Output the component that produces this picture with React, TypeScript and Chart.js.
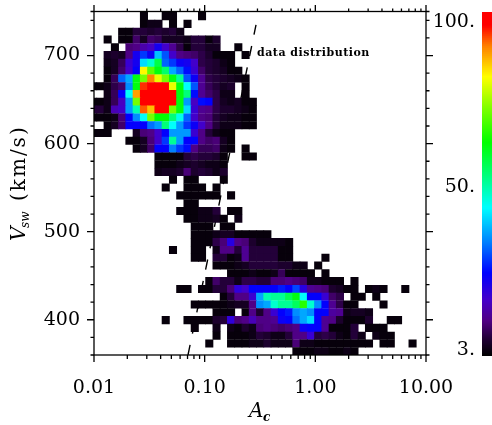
import React, { useEffect, useRef } from "react";
import { Chart, registerables } from "chart.js";

Chart.register(...registerables);

const FONT = '"DejaVu Serif"';

// 2-D histogram: for each speed row (top to bottom) the first occupied A_c bin and the counts that follow
const rowsFast: [number, number[]][] = [
  [6, [4, 0, 0, 4, 4, 0, 0, 0, 4]],
  [6, [4, 5, 5, 0, 4, 0, 4]],
  [3, [4, 4, 8, 8, 7, 8, 7, 8, 5]],
  [1, [4, 0, 4, 4, 11, 6, 11, 10, 6, 6, 6, 5, 8, 8, 4, 7]],
  [2, [4, 0, 12, 13, 16, 18, 24, 19, 14, 9, 4, 8, 8, 6, 6, 0, 0, 4]],
  [1, [6, 7, 6, 13, 24, 30, 25, 40, 32, 19, 13, 12, 11, 9, 7, 4, 4, 4, 0, 4]],
  [1, [5, 6, 10, 20, 24, 42, 48, 58, 33, 30, 25, 24, 19, 9, 8, 7, 5, 4]],
  [1, [4, 6, 11, 19, 26, 82, 70, 62, 55, 38, 33, 27, 20, 11, 8, 7, 6, 4, 4]],
  [1, [4, 10, 33, 38, 62, 72, 90, 80, 72, 62, 52, 32, 25, 14, 9, 8, 7, 6, 5, 4]],
  [0, [4, 5, 9, 11, 36, 62, 94, 100, 100, 100, 80, 62, 45, 32, 14, 10, 8, 6, 7, 0, 4]],
  [1, [5, 10, 26, 45, 88, 100, 100, 100, 100, 100, 62, 54, 27, 14, 11, 9, 5, 5, 0, 4]],
  [0, [4, 5, 10, 18, 37, 72, 100, 100, 100, 100, 100, 62, 37, 18, 27, 26, 9, 6, 5, 6, 4, 4]],
  [0, [8, 5, 17, 19, 37, 50, 92, 86, 100, 100, 72, 62, 42, 20, 14, 13, 9, 7, 7, 6, 5, 4]],
  [0, [4, 4, 5, 12, 26, 36, 45, 72, 63, 63, 54, 46, 33, 19, 13, 12, 8, 6, 5, 5, 4, 4]],
  [1, [4, 6, 11, 26, 26, 26, 34, 37, 54, 45, 37, 30, 25, 19, 13, 8, 5, 5, 5, 4, 4]],
  [0, [4, 4, 0, 0, 0, 6, 12, 13, 19, 26, 37, 37, 37, 20, 13, 8, 5, 4, 4]],
  [4, [4, 4, 6, 12, 19, 30, 52, 37, 26, 26, 13, 11, 12, 6, 4]],
  [5, [4, 6, 11, 26, 26, 35, 30, 27, 13, 10, 10, 11, 5, 4, 0, 4]],
  [8, [4, 4, 4, 4, 8, 9, 8, 8, 7, 4, 0, 0, 4, 4]],
  [8, [4, 4, 4, 5, 6, 7, 6, 5, 5, 4]],
  [8, [5, 6, 6, 7, 12, 7, 8, 7, 5, 7]],
  [10, [4, 0, 4, 4, 0, 0, 0, 4]],
];
const rowsSlow: [number, number[]][] = [
  [9, [4, 0, 0, 4, 4, 4, 0, 4]],
  [11, [4, 4, 4, 4, 4, 4, 0, 4]],
  [12, [4, 4]],
  [11, [4, 4, 4, 5, 5, 8, 0, 4, 4]],
  [12, [4, 4, 5, 5, 6, 4, 0, 5]],
  [13, [4, 4, 4, 0, 4, 4]],
  [13, [4, 4, 4, 5, 6, 6, 4, 4, 4, 4, 4]],
  [13, [4, 4, 4, 9, 12, 22, 13, 12, 7, 5, 5, 5, 5, 4]],
  [10, [4, 0, 0, 4, 4, 0, 5, 13, 13, 8, 14, 8, 8, 8, 8, 4, 4]],
  [13, [4, 4, 0, 8, 8, 4, 5, 14, 8, 8, 8, 8, 4, 4, 0, 0, 0, 0, 4]],
  [16, [4, 4, 4, 5, 6, 8, 8, 8, 8, 7, 7, 5, 5, 0, 4]],
  [18, [4, 4, 4, 5, 4, 4, 5, 10, 4, 4, 4, 4, 0, 4]],
  [15, [4, 11, 8, 8, 5, 9, 9, 8, 8, 12, 12, 13, 12, 11, 5, 5, 4, 4, 4, 0, 4]],
  [11, [4, 4, 0, 4, 4, 8, 8, 12, 21, 19, 26, 26, 26, 26, 28, 26, 31, 22, 14, 13, 12, 7, 6, 4, 4, 0, 4, 5, 4, 0, 0, 4]],
  [17, [4, 8, 13, 13, 20, 38, 50, 52, 52, 57, 62, 45, 26, 26, 20, 11, 9, 0, 4, 4, 0, 4]],
  [13, [4, 4, 4, 4, 4, 5, 6, 6, 13, 36, 38, 48, 52, 52, 56, 66, 48, 36, 26, 14, 9, 4, 4, 0, 0, 0, 4]],
  [16, [4, 4, 4, 0, 4, 13, 7, 13, 20, 26, 28, 36, 38, 36, 26, 26, 15, 14, 5, 6, 6, 5]],
  [9, [4, 0, 0, 4, 4, 4, 4, 7, 8, 21, 12, 13, 17, 13, 13, 14, 25, 26, 34, 38, 42, 26, 14, 13, 7, 4, 4, 4, 7, 0, 0, 4, 4]],
  [13, [4, 0, 0, 5, 0, 5, 4, 7, 5, 12, 13, 12, 11, 12, 13, 25, 26, 26, 14, 4, 4, 4, 8, 0, 4, 4, 4]],
  [16, [4, 0, 4, 4, 4, 5, 8, 7, 5, 5, 8, 13, 13, 20, 8, 9, 8, 5, 4, 8, 5, 0, 5, 4, 4]],
  [15, [4, 0, 0, 4, 4, 4, 5, 5, 7, 5, 5, 5, 12, 5, 5, 4, 4, 4, 4, 4, 4, 4, 4, 0, 4, 4, 0, 0, 4]],
  [27, [4, 4, 4, 5, 5, 4, 4, 5, 4]],
];

// bin geometry in data units
const logAFirstEdge = -1.975;
const logABinWidth = 0.0656;
const speedTopEdge = 749.2;
const speedBinHeight = 8.85;

// axes
const xMajorTicks = [0.01, 0.1, 1, 10];
const xMajorLabels = ["0.01", "0.10", "1.00", "10.00"];
const xTickValues = [
  0.01, 0.02, 0.03, 0.04, 0.05, 0.06, 0.07, 0.08, 0.09,
  0.1, 0.2, 0.3, 0.4, 0.5, 0.6, 0.7, 0.8, 0.9,
  1, 2, 3, 4, 5, 6, 7, 8, 9, 10,
];
const yMajorTicks = [400, 500, 600, 700];
const yTickValues = [
  360, 380, 400, 420, 440, 460, 480, 500, 520, 540, 560, 580, 600,
  620, 640, 660, 680, 700, 720, 740, 750,
];

// dashed guide line (A_c, V_sw)
const guideA = [0.0707, 0.291];
const guideV = [360, 734.7];

// colour bar
const barMin = 3;
const barMax = 100;
const barLevels = 172;
const barLabels: Record<number, string> = { 97.2: "100.", 50.6: "50.", 4.7: "3." };

const colourStops: [number, [number, number, number]][] = [
  [0, [0, 0, 0]],
  [0.05, [34, 0, 55]],
  [0.1, [80, 0, 130]],
  [0.16, [70, 0, 200]],
  [0.24, [0, 0, 255]],
  [0.33, [0, 128, 255]],
  [0.43, [0, 255, 255]],
  [0.52, [0, 255, 128]],
  [0.62, [0, 255, 0]],
  [0.72, [128, 255, 0]],
  [0.81, [255, 255, 0]],
  [0.9, [255, 128, 0]],
  [0.96, [255, 0, 0]],
  [1, [255, 0, 0]],
];

function colourFor(v: number): string {
  const t = Math.max(0, Math.min(1, (v - barMin) / (barMax - barMin)));
  for (let i = 1; i < colourStops.length; i++) {
    const [t1, c1] = colourStops[i];
    const [t0, c0] = colourStops[i - 1];
    if (t <= t1) {
      const f = (t - t0) / (t1 - t0);
      const m = (a: number, b: number) => Math.round(a + (b - a) * f);
      return `rgb(${m(c0[0], c1[0])},${m(c0[1], c1[1])},${m(c0[2], c1[2])})`;
    }
  }
  return "rgb(255,0,0)";
}

function buildCells() {
  const pts: { x: number; y: number }[] = [];
  const colours: string[] = [];
  const push = (k: number, j: number, v: number) => {
    pts.push({
      x: Math.pow(10, logAFirstEdge + (k + 0.5) * logABinWidth),
      y: speedTopEdge - (j + 0.5) * speedBinHeight,
    });
    colours.push(colourFor(v));
  };
  [...rowsFast, ...rowsSlow].forEach(([start, values], j) => {
    values.forEach((v, i) => {
      if (!v) return;
      const k = start + i;
      if (k === 0) push(-1, j, v);
      push(k, j, v);
    });
  });
  return { pts, colours };
}

const framePlugin = {
  id: "frame",
  afterDatasetsDraw(chart: any) {
    const { ctx, chartArea: a, scales } = chart;
    ctx.save();
    ctx.strokeStyle = "#000";
    ctx.lineWidth = 1.3;
    ctx.strokeRect(a.left, a.top, a.right - a.left, a.bottom - a.top);
    ctx.beginPath();
    xTickValues.forEach((v) => {
      const p = scales.x.getPixelForValue(v);
      const bottom = xMajorTicks.includes(v) ? 7 : 4;
      const top = xMajorTicks.includes(v) ? 6.5 : 3;
      ctx.moveTo(p, a.bottom);
      ctx.lineTo(p, a.bottom + bottom);
      ctx.moveTo(p, a.top);
      ctx.lineTo(p, a.top - top);
    });
    yTickValues.forEach((v) => {
      const p = scales.y.getPixelForValue(v);
      const len = yMajorTicks.includes(v) ? 7 : 3.5;
      ctx.moveTo(a.left, p);
      ctx.lineTo(a.left - len, p);
      ctx.moveTo(a.right, p);
      ctx.lineTo(a.right + len, p);
    });
    ctx.stroke();

    ctx.fillStyle = "#000";
    ctx.textBaseline = "alphabetic";
    ctx.textAlign = "left";

    // annotation
    (ctx as any).letterSpacing = "0.5px";
    ctx.font = `bold 11px ${FONT}`;
    ctx.fillText("data distribution", 257, 56);

    // x title
    (ctx as any).letterSpacing = "0px";
    ctx.font = `italic 20px ${FONT}`;
    ctx.fillText("A", 249, 417);
    ctx.font = `italic bold 12px ${FONT}`;
    ctx.fillText("c", 263, 421);

    // y title
    ctx.translate(25, 241);
    ctx.rotate(-Math.PI / 2);
    ctx.font = `italic 20px ${FONT}`;
    ctx.fillText("V", 0, 0);
    ctx.font = `italic 12px ${FONT}`;
    ctx.fillText("sw", 13, 4);
    (ctx as any).letterSpacing = "2px";
    ctx.font = `20px ${FONT}`;
    ctx.fillText("(km/s)", 40, 0);
    ctx.restore();
  },
};

const noPadding = (s: any) => {
  s.paddingTop = 0;
  s.paddingBottom = 0;
  s.paddingLeft = 0;
  s.paddingRight = 0;
};

export default function App() {
  const mainRef = useRef<HTMLCanvasElement>(null);
  const barRef = useRef<HTMLCanvasElement>(null);

  useEffect(() => {
    const { pts, colours } = buildCells();
    const tickFont = { family: FONT, size: 19 };

    const main = new Chart(mainRef.current!, {
      type: "scatter",
      data: {
        datasets: [
          {
            label: "cells",
            data: pts,
            pointStyle: "rect",
            pointRadius: 5.7,
            pointHoverRadius: 5.7,
            pointBorderWidth: 0,
            pointBackgroundColor: colours,
            showLine: false,
            clip: 0,
          } as any,
          {
            label: "data distribution",
            data: guideA.map((x, i) => ({ x, y: guideV[i] })),
            showLine: true,
            borderColor: "#000",
            borderWidth: 1.4,
            borderDash: [10.3, 11.5],
            pointRadius: 0,
            clip: 0,
          } as any,
        ],
      },
      options: {
        animation: false,
        responsive: false,
        events: [],
        layout: { padding: { top: 11.5, right: 66, left: 0, bottom: 0 } },
        plugins: { legend: { display: false }, tooltip: { enabled: false } },
        scales: {
          x: {
            type: "logarithmic",
            min: 0.01,
            max: 10,
            grid: { display: false, drawTicks: false },
            border: { display: false },
            afterBuildTicks(s: any) {
              s.ticks = xTickValues.map((value) => ({ value }));
            },
            afterFit(s: any) {
              s.height = 70;
              noPadding(s);
            },
            ticks: {
              autoSkip: false,
              maxRotation: 0,
              minRotation: 0,
              padding: 22,
              color: "#000",
              font: tickFont,
              callback: (v: any) => {
                const i = xMajorTicks.indexOf(Number(v));
                return i >= 0 ? xMajorLabels[i] : "";
              },
            },
          },
          y: {
            type: "linear",
            min: 360,
            max: 750,
            grid: { display: false, drawTicks: false },
            border: { display: false },
            afterBuildTicks(s: any) {
              s.ticks = yTickValues.map((value) => ({ value }));
            },
            afterFit(s: any) {
              s.width = 94;
              noPadding(s);
            },
            ticks: {
              autoSkip: false,
              padding: 14,
              color: "#000",
              font: tickFont,
              callback: (v: any) => (yMajorTicks.includes(Number(v)) ? String(v) : ""),
            },
          },
        },
      } as any,
      plugins: [framePlugin as any],
    });

    const levels = Array.from(
      { length: barLevels },
      (_, i) => barMax - ((i + 0.5) / barLevels) * (barMax - barMin)
    );
    const barChart = new Chart(barRef.current!, {
      type: "bar",
      data: {
        datasets: [
          {
            data: levels.map((y) => ({ x: 1, y })),
            backgroundColor: levels.map(colourFor),
            barThickness: 2.1,
            borderWidth: 0,
          } as any,
        ],
      },
      options: {
        indexAxis: "y",
        animation: false,
        responsive: false,
        events: [],
        layout: { padding: { top: 12, right: 0, left: 0, bottom: 69 } },
        plugins: { legend: { display: false }, tooltip: { enabled: false } },
        scales: {
          x: { display: false, min: 0, max: 1 },
          y: {
            type: "linear",
            min: barMin,
            max: barMax,
            grid: { display: false, drawTicks: false },
            border: { display: false },
            offset: false,
            afterBuildTicks(s: any) {
              s.ticks = Object.keys(barLabels).map((k) => ({ value: Number(k) }));
            },
            afterFit(s: any) {
              s.width = 56;
              noPadding(s);
            },
            ticks: {
              autoSkip: false,
              padding: 7,
              color: "#000",
              font: tickFont,
              callback: (v: any) => barLabels[Number(v)] ?? "",
            },
          },
        },
      } as any,
    });

    return () => {
      main.destroy();
      barChart.destroy();
    };
  }, []);

  return (
    <div style={{ position: "fixed", left: 0, top: 0, width: 492, height: 425, background: "#fff" }}>
      <canvas ref={mainRef} width={492} height={425} style={{ position: "absolute", left: 0, top: 0, width: 492, height: 425 }} />
      <canvas ref={barRef} width={66} height={425} style={{ position: "absolute", left: 426, top: 0, width: 66, height: 425 }} />
    </div>
  );
}
